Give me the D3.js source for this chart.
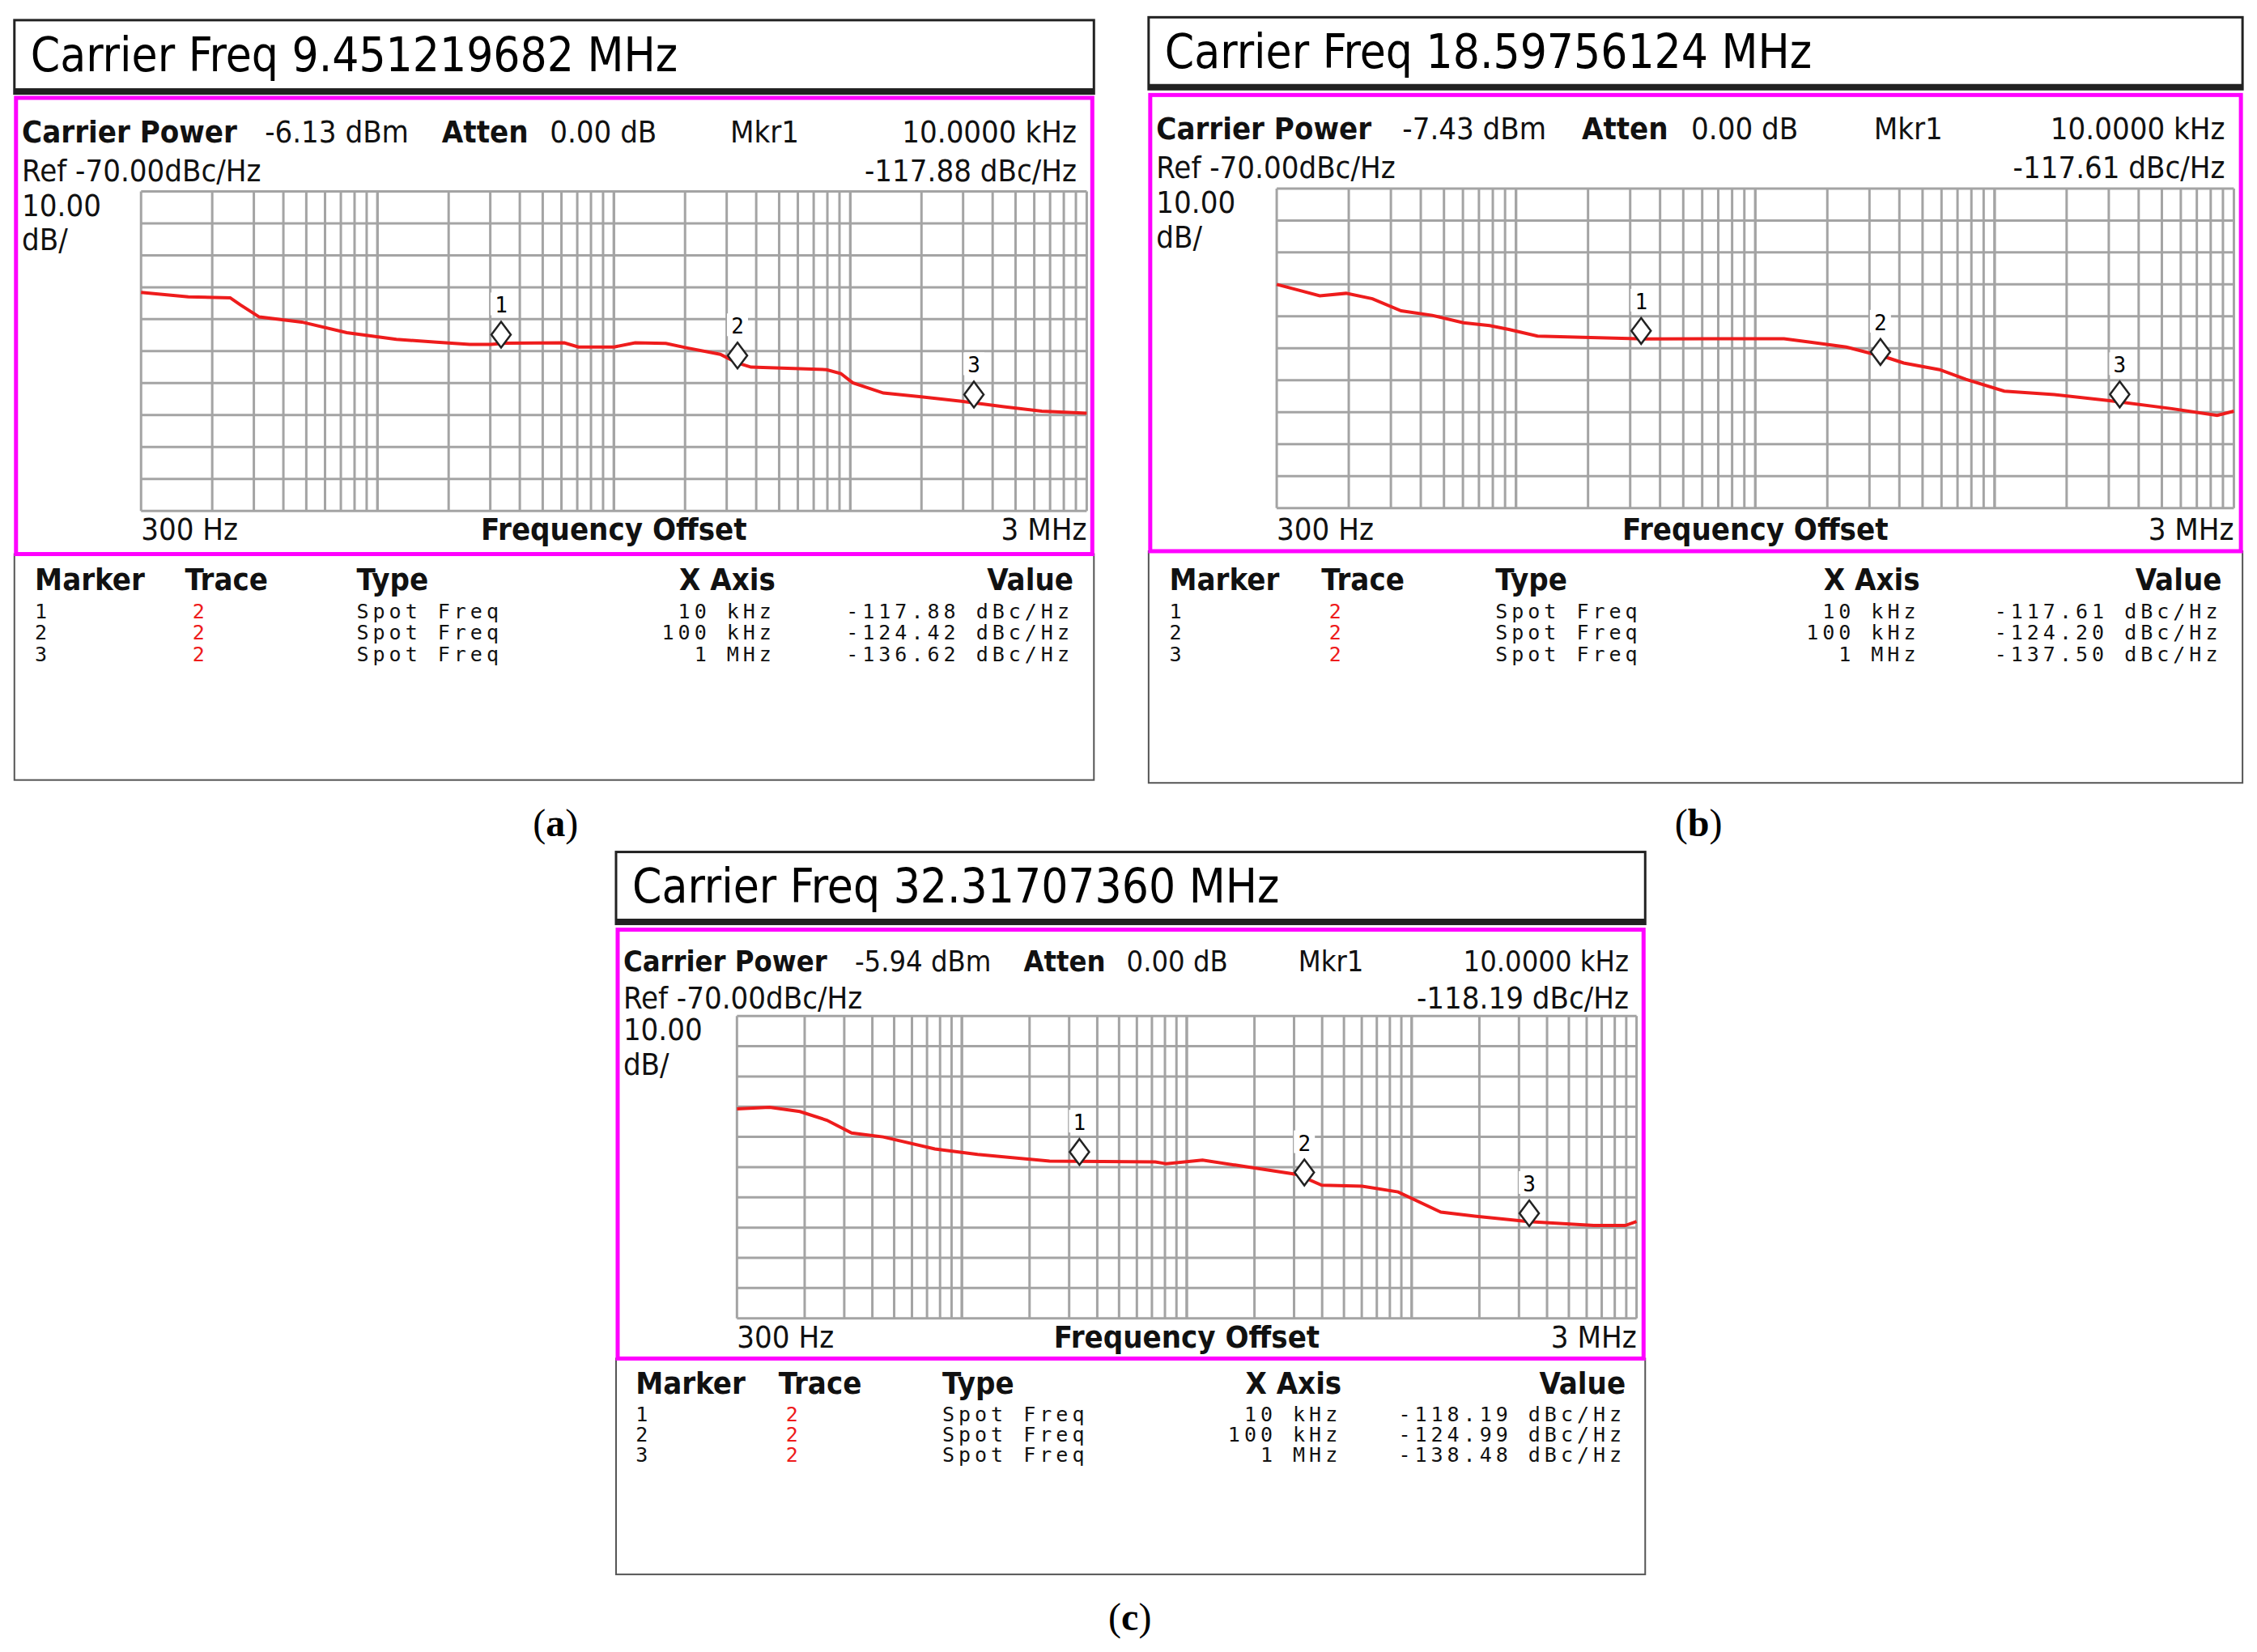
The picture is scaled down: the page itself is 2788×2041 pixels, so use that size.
<!DOCTYPE html>
<html><head><meta charset="utf-8">
<script src="https://cdn.jsdelivr.net/npm/d3@7"></script>
<style>body{margin:0;background:#fff}svg{display:block}</style>
</head><body>
<script>
// ---- data ----
const carrierFreqs = ["9.451219682", "18.59756124", "32.31707360"];
const carrierPowers = ["-6.13", "-7.43", "-5.94"];
const mkr1Values = ["-117.88", "-117.61", "-118.19"];
const markerFreqs = [10000, 100000, 1000000];
const markerXLabels = ["10 kHz", "100 kHz", "1 MHz"];
const markerValsA = [-117.88, -124.42, -136.62];
const markerValsB = [-117.61, -124.20, -137.50];
const markerValsC = [-118.19, -124.99, -138.48];
// trace: [log10(f/300) decades, dBc/Hz]
const traceA = [[0,-101.6],[0.1,-102.3],[0.2,-103.0],[0.377,-103.3],[0.42,-105.5],[0.5,-109.3],[0.68,-110.9],[0.87,-114.2],[1.08,-116.3],[1.25,-117.2],[1.39,-117.9],[1.48,-117.9],[1.54,-117.5],[1.79,-117.4],[1.85,-118.7],[2.0,-118.7],[2.09,-117.4],[2.22,-117.6],[2.31,-119.0],[2.45,-121.0],[2.52,-123.6],[2.58,-125.0],[2.9,-125.8],[2.96,-127.0],[3.01,-129.9],[3.14,-133.1],[3.3,-134.3],[3.47,-135.7],[3.65,-137.4],[3.81,-138.8],[4.0,-139.4]];
const traceB = [[0,-100.0],[0.09,-101.8],[0.18,-103.6],[0.29,-102.8],[0.40,-104.5],[0.52,-108.3],[0.65,-109.7],[0.78,-112.0],[0.89,-112.9],[0.97,-114.1],[1.09,-116.2],[1.28,-116.6],[1.54,-117.1],[1.81,-117.0],[2.12,-117.0],[2.23,-118.1],[2.38,-119.6],[2.55,-122.9],[2.62,-124.6],[2.77,-126.7],[2.88,-129.7],[3.04,-133.4],[3.25,-134.5],[3.48,-136.4],[3.74,-138.9],[3.93,-141.0],[4.0,-139.7]];
const traceC = [[0,-100.7],[0.145,-100.2],[0.28,-101.6],[0.4,-104.5],[0.51,-108.7],[0.65,-110.0],[0.88,-114.0],[1.07,-115.8],[1.39,-118.0],[1.86,-118.3],[1.91,-118.9],[2.07,-117.7],[2.26,-119.8],[2.49,-122.4],[2.60,-126.0],[2.78,-126.3],[2.94,-128.2],[3.13,-134.9],[3.28,-136.2],[3.52,-138.0],[3.81,-139.3],[3.95,-139.3],[4.0,-138.0]];
const yTicks = d3.range(-170, -69, 10);
const gridMultipliers = [1,2,3,4,5,6,7,8,9,10];

const S = 1.778;
const W = 2788, H = 2041;
const svg = d3.select("body").append("svg").attr("width", W).attr("height", H);
const narrow = "'DejaVu Sans Condensed','Liberation Sans Narrow',sans-serif";
const mono = "'DejaVu Sans Mono','Liberation Mono',monospace";

const panels = [
  {x:10, w:750, top:14, t2:65, m1:68, m2:385, g1:133, g2:355, gx1:98, gx2:755, lab:368, th:403, rows:[425,440,455], bot:542, labX:386, labY:573, trace:traceA, mv:markerValsA},
  {x:798, w:760, top:12, t2:62, m1:66, m2:383, g1:131, g2:353, gx1:887, gx2:1552, lab:368, th:403, rows:[425,440,455], bot:544, labX:1180, labY:573, trace:traceB, mv:markerValsB},
  {x:428, w:715, top:592, t2:642, m1:646, m2:944, g1:706, g2:916, gx1:512, gx2:1137, lab:929, th:962, rows:[983,997,1011], bot:1094, labX:785, labY:1125, trace:traceC, mv:markerValsC}
];

panels.forEach((p, i) => {
  const g = svg.append("g");
  const X = v => v * S;
  const left = X(p.x), right = X(p.x + p.w);
  g.append("rect").attr("x", left).attr("y", X(p.top)).attr("width", right-left).attr("height", X(p.t2-p.top))
    .attr("fill", "#fff").attr("stroke", "#222").attr("stroke-width", 3);
  g.append("line").attr("x1", left).attr("x2", right).attr("y1", X(p.t2)-3).attr("y2", X(p.t2)-3).attr("stroke","#222").attr("stroke-width",7);
  g.append("text").attr("x", left+20).attr("y", X((p.top+p.t2)/2)+18).attr("font-family", narrow)
    .attr("font-size", 58).text("Carrier Freq " + carrierFreqs[i] + " MHz");
  g.append("rect").attr("x", left).attr("y", X(p.m2)).attr("width", right-left).attr("height", X(p.bot-p.m2))
    .attr("fill","none").attr("stroke","#555").attr("stroke-width",2);
  g.append("rect").attr("x", left+2).attr("y", X(p.m1)).attr("width", right-left-4).attr("height", X(p.m2-p.m1))
    .attr("fill","#fff").attr("stroke","#ff00ff").attr("stroke-width",5);

  const fx = t => X(p.x) + t * (right-left);
  const t = (x,y,s,opt={}) => g.append("text").attr("x",x).attr("y",y).attr("font-family",narrow)
     .attr("font-size",opt.fs||38).attr("font-weight",opt.b?"bold":"normal").attr("text-anchor",opt.a||"start")
     .attr("fill",opt.c||"#111").text(s);
  const ph = (p.m2-p.m1)/317;
  const hs = p.w < 740 ? 36 : 38;
  t(fx(0.007), X(p.m1+31*ph), "Carrier Power", {b:1, fs:hs});
  t(fx(0.232), X(p.m1+31*ph), carrierPowers[i] + " dBm", {fs:hs});
  t(fx(0.396), X(p.m1+31*ph), "Atten", {b:1, fs:hs});
  t(fx(0.496), X(p.m1+31*ph), "0.00 dB", {fs:hs});
  t(fx(0.663), X(p.m1+31*ph), "Mkr1", {fs:hs});
  t(fx(0.984), X(p.m1+31*ph), "10.0000 kHz", {a:"end", fs:hs});
  t(fx(0.007), X(p.m1+58*ph), "Ref -70.00dBc/Hz");
  t(fx(0.984), X(p.m1+58*ph), mkr1Values[i] + " dBc/Hz", {a:"end"});
  t(fx(0.007), X(p.g1+17), "10.00");
  t(fx(0.007), X(p.g1+41), "dB/");

  const xs = d3.scaleLog().domain([300, 3e6]).range([X(p.gx1), X(p.gx2)]);
  const ys = d3.scaleLinear().domain([-170, -70]).range([X(p.g2), X(p.g1)]);
  const vlines = [];
  [300, 3000, 30000, 300000].forEach(d => gridMultipliers.forEach(k => vlines.push(d*k)));
  const gg = g.append("g").attr("stroke", "#a4a4a4").attr("stroke-width", 3);
  gg.selectAll(".v").data(vlines).enter().append("line")
    .attr("x1", d=>xs(d)).attr("x2", d=>xs(d)).attr("y1", ys(-70)).attr("y2", ys(-170));
  gg.selectAll(".h").data(yTicks).enter().append("line")
    .attr("x1", xs(300)).attr("x2", xs(3e6)).attr("y1", d=>ys(d)).attr("y2", d=>ys(d));

  const line = d3.line().x(d => xs(300*Math.pow(10,d[0]))).y(d => ys(d[1])).curve(d3.curveLinear);
  g.append("path").datum(p.trace).attr("d", line).attr("fill","none").attr("stroke","#ee1c1c").attr("stroke-width",4);

  markerFreqs.forEach((f, k) => {
    const cx = xs(f), cy = ys(p.mv[k]) - 12;
    const r = 16;
    g.append("path").attr("d", `M${cx},${cy-r}L${cx+r*0.75},${cy}L${cx},${cy+r}L${cx-r*0.75},${cy}Z`)
      .attr("fill","#fff").attr("stroke","#222").attr("stroke-width",2.5);
    g.append("rect").attr("x", cx-13).attr("y", cy-r-36).attr("width",26).attr("height",28).attr("fill","#fff");
    g.append("text").attr("x", cx).attr("y", cy-r-11).attr("text-anchor","middle").attr("font-family",mono)
      .attr("font-size",26).text(k+1);
  });

  const by = X(p.lab) + 13;
  t(xs(300), by, "300 Hz");
  t((xs(300)+xs(3e6))/2, by, "Frequency Offset", {b:1, a:"middle"});
  t(xs(3e6), by, "3 MHz", {a:"end"});

  const cols = [0.019, 0.158, 0.317, 0.705, 0.981];
  const hy = X(p.th) + 12;
  t(fx(cols[0]), hy, "Marker", {b:1});
  t(fx(cols[1]), hy, "Trace", {b:1});
  t(fx(cols[2]), hy, "Type", {b:1});
  t(fx(cols[3]), hy, "X Axis", {b:1, a:"end"});
  t(fx(cols[4]), hy, "Value", {b:1, a:"end"});
  const mt = (x,y,s,a,c) => g.append("text").attr("x",x).attr("y",y).attr("font-family",mono).attr("font-size",25)
     .attr("letter-spacing",5).attr("text-anchor",a||"start").attr("fill",c||"#111").text(s);
  p.rows.forEach((ry, k) => {
    const yy = X(ry) + 8;
    mt(fx(cols[0]), yy, String(k+1));
    mt(fx(cols[1]+0.007), yy, "2", "start", "#ee1c1c");
    mt(fx(cols[2]), yy, "Spot Freq");
    mt(fx(cols[3]), yy, markerXLabels[k], "end");
    mt(fx(cols[4]), yy, p.mv[k].toFixed(2) + " dBc/Hz", "end");
  });

  svg.append("text").attr("x", X(p.labX)).attr("y", X(p.labY)+14).attr("text-anchor","middle")
    .attr("font-family","'Liberation Serif','DejaVu Serif',serif").attr("font-size",48)
    .html('(<tspan font-weight="bold">' + "abc"[i] + '</tspan>)');
});
</script>
</body></html>
